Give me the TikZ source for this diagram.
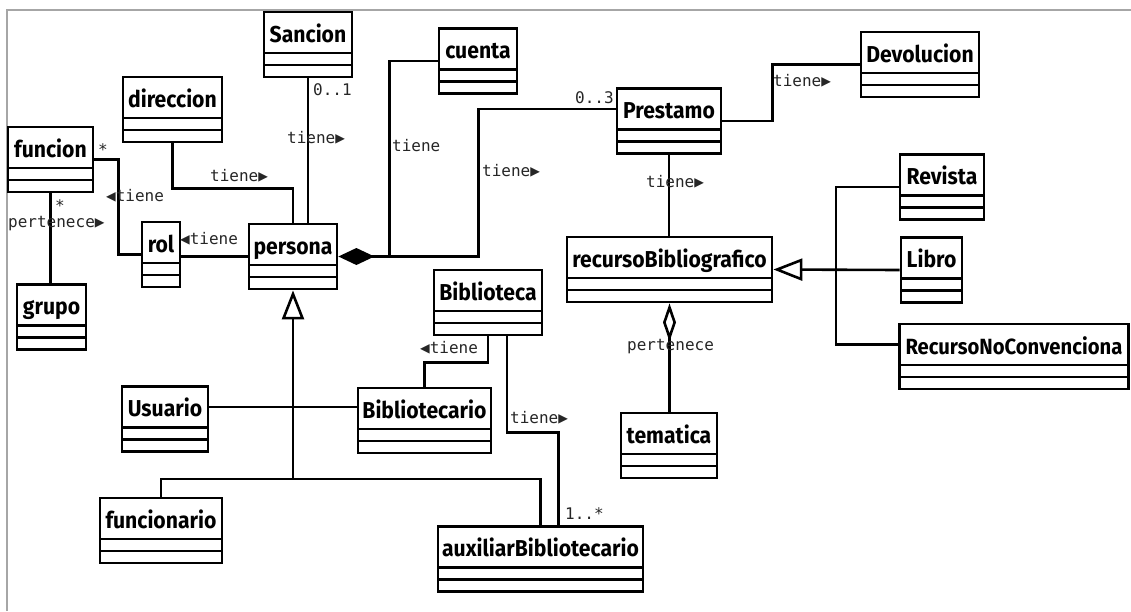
\documentclass[tikz,border=0pt]{standalone}
\usepackage{fontspec}
\usetikzlibrary{arrows.meta}
\newfontfamily\classfont[FakeStretch=0.92]{Fira Sans}
\newfontfamily\labelfont{DejaVu Sans Mono}
\begin{document}
\begin{tikzpicture}[x=1pt,y=-1pt,
  umlclass/.style={draw, line width=2.8pt, inner sep=0pt, minimum width=#1,
    text height=30pt, text depth=35pt,
    font=\classfont\bfseries\fontsize{23}{23}\selectfont,
    path picture={
      \draw[line width=2.8pt] ([yshift=12pt]path picture bounding box.south west) -- ([yshift=12pt]path picture bounding box.south east);
      \draw[line width=2.8pt] ([yshift=24pt]path picture bounding box.south west) -- ([yshift=24pt]path picture bounding box.south east);}},
  assoc/.style={line width=2.6pt},
  gen/.style={assoc, -{Triangle[open, length=29pt, width=22pt, line width=2.6pt]}},
  comp/.style={assoc, {Diamond[length=36pt, width=17pt]}-},
  agg/.style={assoc, {Diamond[open, length=38pt, width=13pt, line width=2.6pt]}-},
  lbl/.style={font=\labelfont\fontsize{16}{16}\selectfont, text=black!85, inner sep=0pt, anchor=base west}]
\useasboundingbox (0,0) rectangle (1131,611);
\draw [gray!70, line width=2pt] (7,611) -- (7,10) -- (1131,10);

\node [umlclass=88pt] (sancion) at (308,44.5) {Sancion};
\node [umlclass=99pt] (direccion) at (172.5,109.5) {direccion};
\node [umlclass=85pt] (funcion) at (50.5,159.5) {funcion};
\node [umlclass=38pt] (rol) at (161,254.5) {rol};
\node [umlclass=88pt] (persona) at (293,256.5) {persona};
\node [umlclass=69pt] (grupo) at (51.5,317) {grupo};
\node [umlclass=78pt] (cuenta) at (478,61) {cuenta};
\node [umlclass=104pt] (prestamo) at (669,121) {Prestamo};
\node [umlclass=118pt] (devolucion) at (920,64.5) {Devolucion};
\node [umlclass=205pt] (recurso) at (669.5,269.5) {recursoBibliografico};
\node [umlclass=84pt] (revista) at (942,187) {Revista};
\node [umlclass=61pt] (libro) at (931.5,270) {Libro};
\node [umlclass=229pt, font=\classfont\bfseries\fontsize{22}{22}\selectfont, anchor=west] (noconv) at (898,356.5) {RecursoNoConvenciona};
\node [umlclass=108pt] (biblioteca) at (488,302.5) {Biblioteca};
\node [umlclass=133pt] (bibliotecario) at (424.5,420.5) {Bibliotecario};
\node [umlclass=86pt] (usuario) at (165,419) {Usuario};
\node [umlclass=96pt] (tematica) at (669,445.5) {tematica};
\node [umlclass=122pt] (funcionario) at (161,530.5) {funcionario};
\node [umlclass=205pt] (auxiliar) at (540.5,559) {auxiliarBibliotecario};

\draw [assoc] (funcion.east) -- ++(24,0) |- (rol.west);
\draw [assoc] (funcion.south) -- (funcion.south |- grupo.north);
\draw [assoc] (direccion.south) -- ++(0,45) -| (persona.north);
\draw [assoc] (sancion.south) -- (sancion.south |- persona.north);
\draw [assoc] (persona.west) -- (persona.west -| rol.east);
\draw [comp] (persona.east) -- ++(51,0) coordinate (hub) |- (cuenta.west);
\draw [assoc] (hub) -- ++(89,0) |- ([yshift=12pt]prestamo.west);
\draw [assoc] (prestamo.east) -- ++(50,0) |- (devolucion.west);
\draw [assoc] (prestamo.south) -- (prestamo.south |- recurso.north);
\coordinate (rbus) at (836,270);
\draw [gen] (libro.west) -- (recurso.east);
\draw [assoc] (revista.west) -| (rbus) |- ([yshift=12pt]noconv.west);
\draw [agg] (recurso.south) -- (recurso.south |- tematica.north);
\coordinate (pbus) at (293,479);
\draw [gen] (funcionario.north) |- (pbus) -- (persona.south);
\draw [assoc] (pbus) -| (auxiliar.north);
\draw [assoc] ([yshift=12pt]usuario.east) -- ([yshift=12pt]usuario.east -| bibliotecario.west);
\draw [assoc] (biblioteca.south) -- ++(0,26) -| (bibliotecario.north);
\draw [assoc] ([xshift=19pt]biblioteca.south) -- ++(0,96) -| ([xshift=18pt]auxiliar.north);

\node [lbl] (m1) at (98,155) {*};
\node [lbl] (t1) at (106,201) {◀tiene};
\node [lbl] (m2) at (55,211) {*};
\node [lbl] (p1) at (8,227) {pertenece▶};
\node [lbl] (t2) at (210,181) {tiene▶};
\node [lbl] (m3) at (313,95) {0..1};
\node [lbl] (t3) at (287,143) {tiene▶};
\node [lbl] (t4) at (180,244) {◀tiene};
\node [lbl] (t5) at (392,151) {tiene};
\node [lbl] (m4) at (575,103) {0..3};
\node [lbl] (t6) at (482,176) {tiene▶};
\node [lbl] (t7) at (646,187) {tiene▶};
\node [lbl] (t8) at (773,86) {tiene▶};
\node [lbl] (p2) at (627,350) {pertenece};
\node [lbl] (t9) at (420,353) {◀tiene};
\node [lbl] (t10) at (510,423) {tiene▶};
\node [lbl] (m5) at (565,519) {1..*};
\end{tikzpicture}
\end{document}
